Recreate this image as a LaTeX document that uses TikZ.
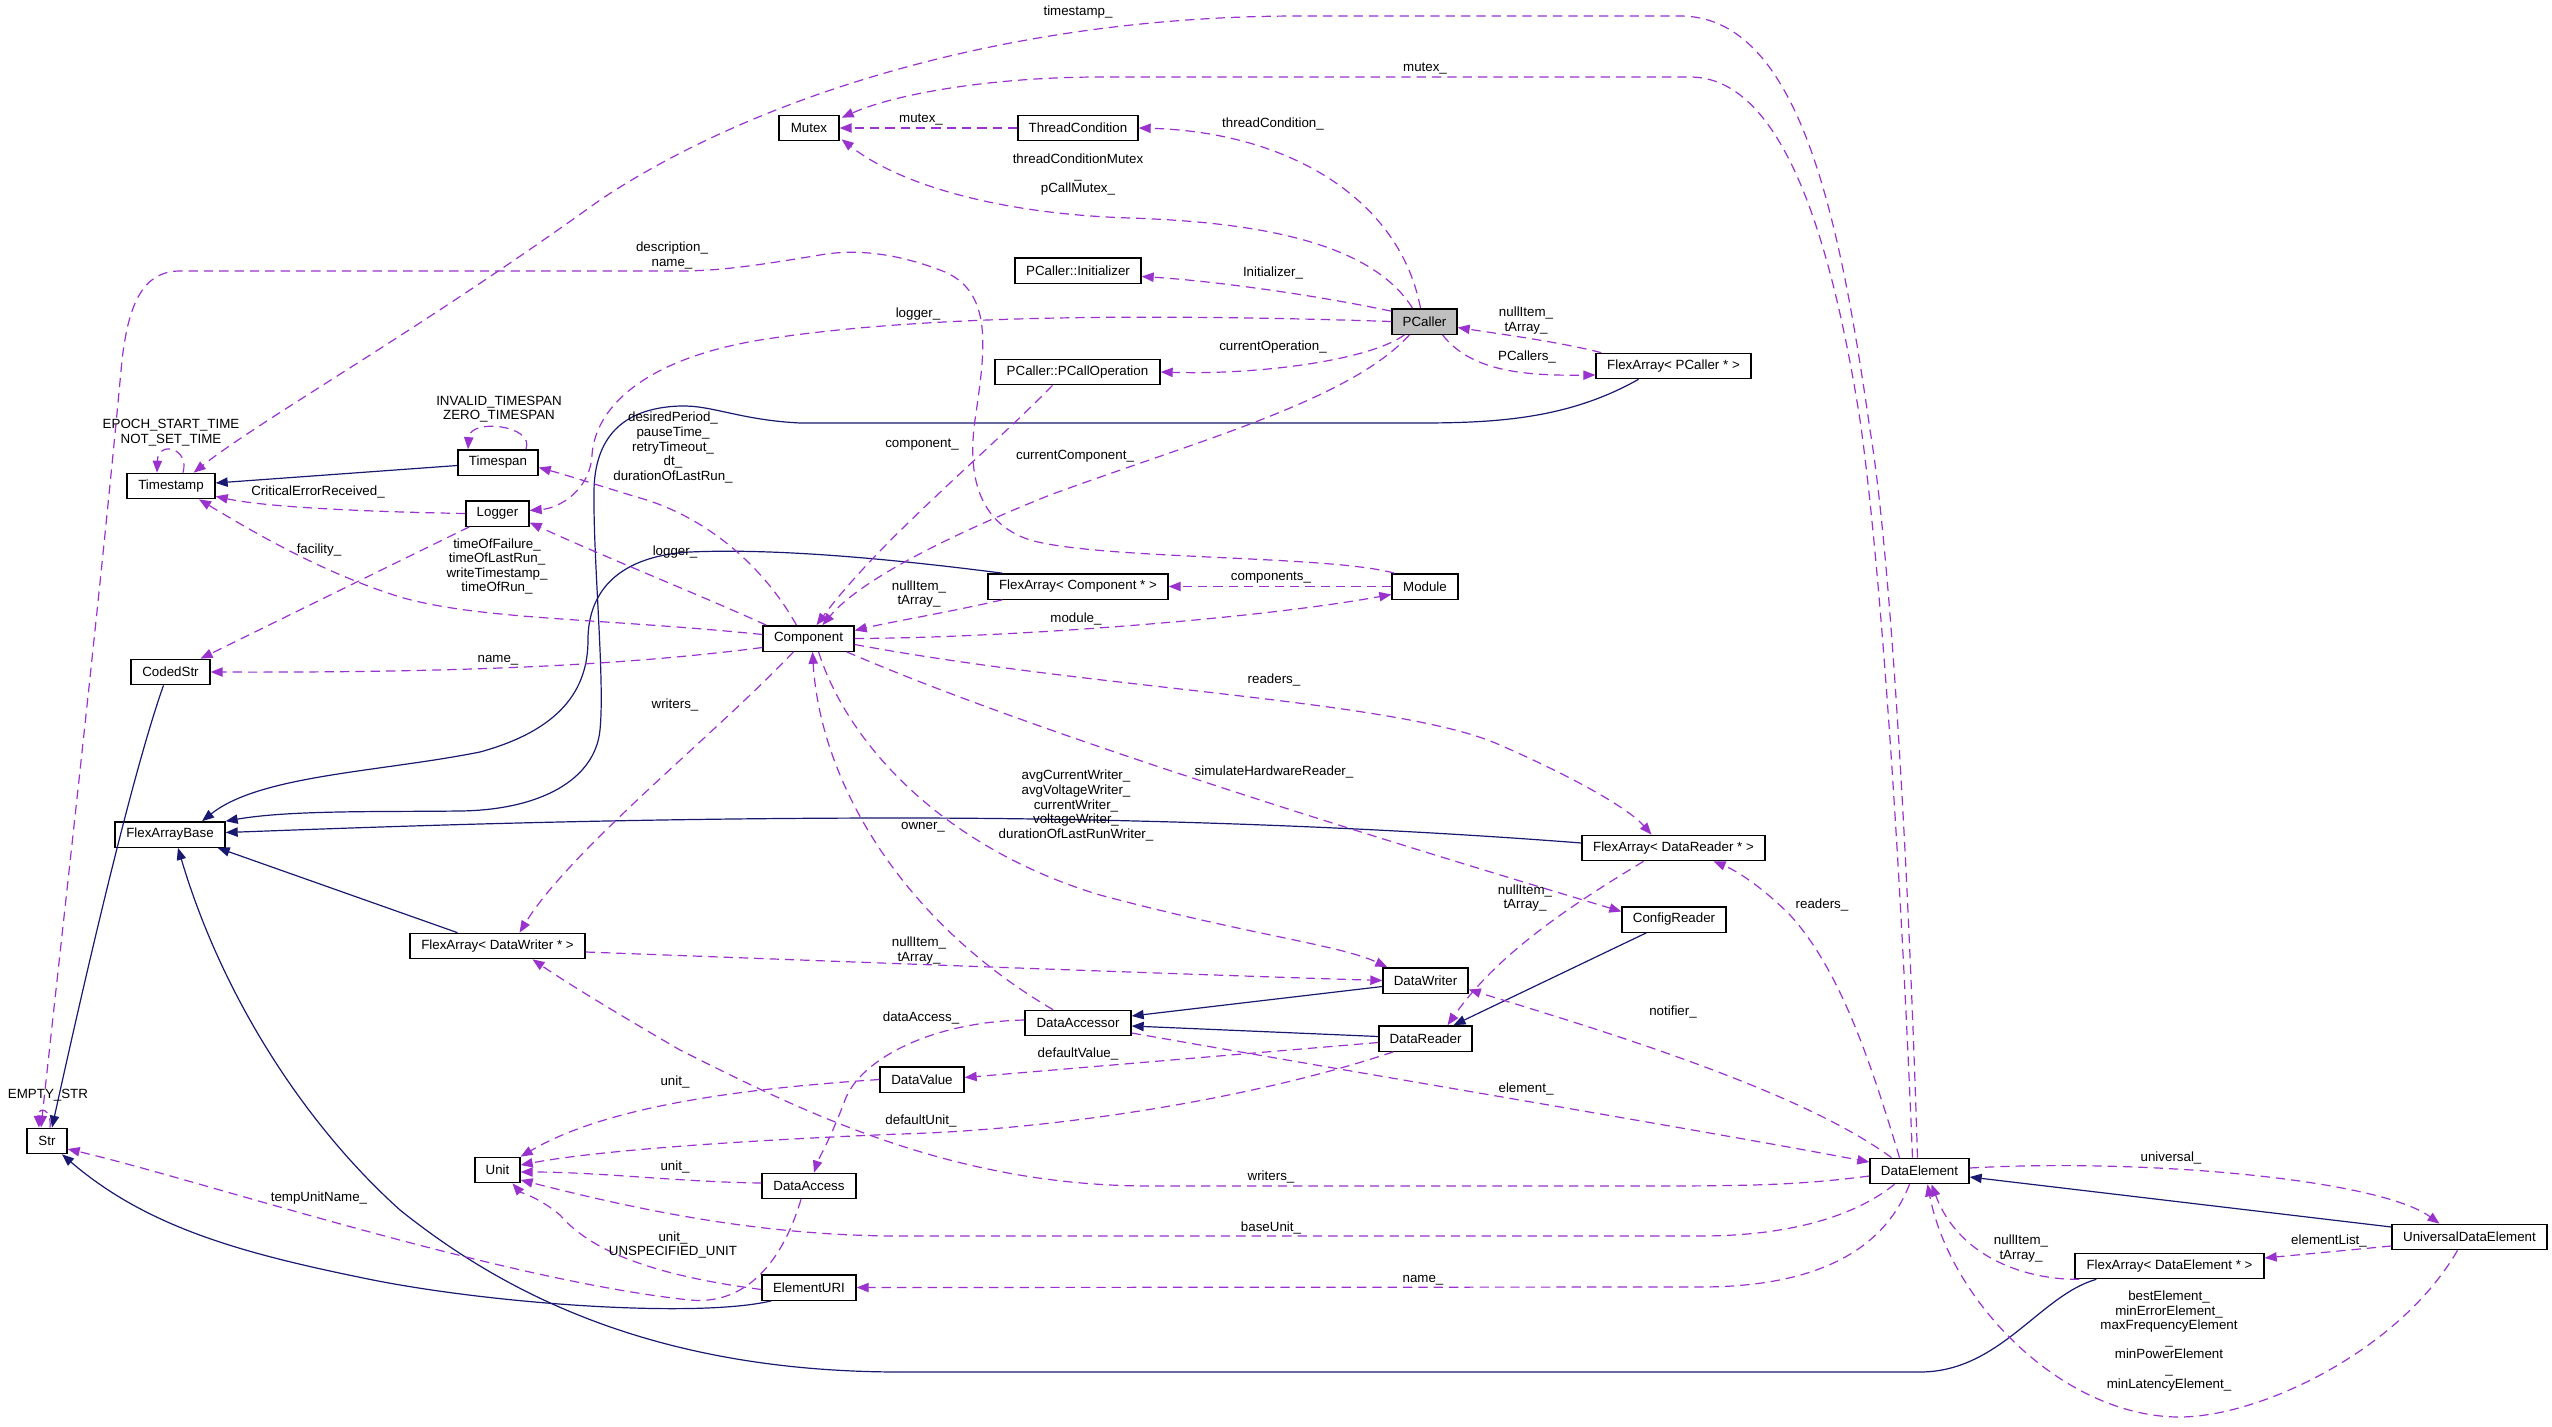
\documentclass[tikz,border=0pt]{standalone}
\usepackage{fontspec}
\setmainfont{Liberation Sans}
\usetikzlibrary{arrows.meta,calc}
\definecolor{purp}{HTML}{9A32CD}
\definecolor{navyb}{HTML}{191970}
\definecolor{pcfill}{HTML}{BFBFBF}
\begin{document}
\begin{tikzpicture}[x=0.75pt,y=-0.75pt,
  every node/.style={font=\fontsize{10}{10.9}\selectfont},
  box/.style={draw=black, line width=1pt, fill=white, minimum height=19pt, inner sep=0pt, anchor=center},
  rel/.style={draw=purp, line width=0.9pt, dash pattern=on 7pt off 4.5pt, -{Triangle[length=9pt,width=7pt]}},
  inh/.style={draw=navyb, line width=0.9pt, -{Triangle[length=9pt,width=7pt]}},
  lbl/.style={align=center, inner sep=0pt}]
\useasboundingbox (0,0) rectangle (2552,1427);
% nodes
\node[box, minimum width=45pt] (Mutex) at (809,128) {Mutex};
\node[box, minimum width=90pt] (TC) at (1078,128) {ThreadCondition};
\node[box, minimum width=94.5pt] (Init) at (1078,270.5) {PCaller::Initializer};
\node[box, minimum width=48.75pt, fill=pcfill] (PC) at (1424.5,321.5) {PCaller};
\node[box, minimum width=116.25pt] (FAP) at (1673.5,366) {FlexArray< PCaller * >};
\node[box, minimum width=123.75pt] (PCO) at (1077.5,372) {PCaller::PCallOperation};
\node[box, minimum width=66pt] (TS) at (171,486) {Timestamp};
\node[box, minimum width=60pt] (TSp) at (498,462.5) {Timespan};
\node[box, minimum width=47.25pt] (Log) at (497.5,513.5) {Logger};
\node[box, minimum width=59.25pt] (CS) at (170.5,672) {CodedStr};
\node[box, minimum width=68.25pt] (Comp) at (808.5,638.5) {Component};
\node[box, minimum width=135pt] (FAC) at (1078,586.5) {FlexArray< Component * >};
\node[box, minimum width=49.5pt] (Mod) at (1425,586.5) {Module};
\node[box, minimum width=82.5pt] (FAB) at (170,834.5) {FlexArrayBase};
\node[box, minimum width=131.25pt] (FADW) at (497.5,946) {FlexArray< DataWriter * >};
\node[box, minimum width=137.25pt] (FADR) at (1673.5,848) {FlexArray< DataReader * >};
\node[box, minimum width=78pt] (CR) at (1674,919.5) {ConfigReader};
\node[box, minimum width=63.75pt] (DW) at (1425.5,980.5) {DataWriter};
\node[box, minimum width=79.5pt] (DA) at (1078,1023) {DataAccessor};
\node[box, minimum width=69.75pt] (DR) at (1425.5,1038.5) {DataReader};
\node[box, minimum width=63pt] (DV) at (922,1079.5) {DataValue};
\node[box, minimum width=30pt] (Str) at (47,1141) {Str};
\node[box, minimum width=33.75pt] (Unit) at (497.5,1170) {Unit};
\node[box, minimum width=70.5pt] (DAc) at (809,1186) {DataAccess};
\node[box, minimum width=70.5pt] (EU) at (809,1287.5) {ElementURI};
\node[box, minimum width=74.25pt] (DE) at (1919.5,1171) {DataElement};
\node[box, minimum width=116.25pt] (UDE) at (2469.5,1237) {UniversalDataElement};
\node[box, minimum width=141.75pt] (FADE) at (2169.5,1266) {FlexArray< DataElement * >};
% inheritance
\draw[inh] ($(TSp.west)+(0,3)$) -- ($(TS.east)+(0,-3)$);
\draw[inh] ($(FAP.south)+(-35,0)$) .. controls (1570,418) and (1500,423) .. (1420,423) -- (800,423) .. controls (740,420) and (712,405) .. (680,406) .. controls (620,408) and (595,440) .. (594,490) .. controls (593,560) and (605,680) .. (600,730) .. controls (595,780) and (540,810) .. (460,811) .. controls (380,812) and (290,810) .. (FAB.north east);
\draw[inh] ($(FAC.north west)+(15,0)$) .. controls (900,560) and (780,548) .. (690,552) .. controls (620,556) and (588,590) .. (588,640) .. controls (588,690) and (560,730) .. (480,752) .. controls (380,772) and (260,775) .. ($(FAB.north)+(32,0)$);
\draw[inh] ($(FADR.west)+(0,-5)$) .. controls (1350,825) and (1100,818) .. (900,818) .. controls (600,818) and (350,828) .. ($(FAB.east)+(0,-2)$);
\draw[inh] ($(FADW.north)+(-40,0)$) -- ($(FAB.south east)+(-8,0)$);
\draw[inh] ($(FADE.south west)+(22,0)$) .. controls (2040,1295) and (2000,1372) .. (1920,1372) -- (900,1372) .. controls (650,1372) and (500,1290) .. (400,1210) .. controls (300,1120) and (220,990) .. ($(FAB.south)+(8,0)$);
\draw[inh] ($(DW.west)+(0,6)$) -- ($(DA.east)+(0,-7)$);
\draw[inh] ($(DR.west)+(0,-2)$) -- ($(DA.east)+(0,3)$);
\draw[inh] ($(CR.south west)+(25,0)$) -- ($(DR.north)+(28,0)$);
\draw[inh] ($(UDE.west)+(0,-10)$) -- ($(DE.east)+(0,6)$);
\draw[inh] ($(CS.south)+(-7,0)$) .. controls (130,780) and (80,1000) .. ($(Str.north)+(5,0)$);
\draw[inh] ($(EU.south west)+(10,0)$) .. controls (700,1318) and (500,1305) .. (373,1280) .. controls (250,1255) and (150,1230) .. ($(Str.south)+(15,0)$);
% usage
\draw[rel] ($(PC.north)+(-4,0)$) .. controls (1400,200) and (1290,132) .. (TC.east);
\node[lbl] (l1) at (1273,124) {threadCondition\_};
\draw[rel] (TC.west) -- (Mutex.east);
\node[lbl] (l2) at (921,120) {mutex\_};
\draw[rel] ($(PC.north)+(-12,0)$) .. controls (1370,240) and (1250,222) .. (1130,218) .. controls (1000,214) and (900,185) .. ($(Mutex.south east)+(2,-2)$);
\node[lbl] (l3) at (1078,175) {threadConditionMutex\\\_\\pCallMutex\_};
\draw[rel] ($(DE.north)+(-7,0)$) .. controls (1900,850) and (1880,560) .. (1860,420) .. controls (1830,230) and (1780,77) .. (1690,77) -- (1100,77) .. controls (1000,77) and (900,92) .. ($(Mutex.north east)+(2,3)$);
\node[lbl] (l4) at (1425,69) {mutex\_};
\draw[rel] ($(DE.north)+(-2,0)$) .. controls (1908,850) and (1890,550) .. (1870,430) .. controls (1840,220) and (1800,16) .. (1680,16) -- (1300,16) .. controls (1000,16) and (750,100) .. (600,200) .. controls (420,330) and (260,420) .. ($(TS.north east)+(-22,0)$);
\node[lbl] (l5) at (1078,12) {timestamp\_};
\draw[rel] ($(Mod.north west)+(3,0)$) .. controls (1330,555) and (1100,560) .. (1030,540) .. controls (975,522) and (968,470) .. (975,420) .. controls (985,350) and (995,290) .. (940,270) .. controls (900,255) and (860,248) .. (820,255) .. controls (760,265) and (720,271) .. (680,271) -- (180,271) .. controls (140,271) and (128,310) .. (122,360) .. controls (100,600) and (60,950) .. ($(Str.north)+(-6,0)$);
\node[lbl] (l6) at (672,255.5) {description\_\\name\_};
\draw[rel] ($(PC.north west)+(0,3)$) .. controls (1300,292) and (1200,280) .. ($(Init.east)+(0,6)$);
\node[lbl] (l7) at (1273,273) {Initializer\_};
\draw[rel] (PC.west) .. controls (1100,312) and (900,318) .. (760,340) .. controls (640,360) and (595,410) .. (592,455) .. controls (590,490) and (560,508) .. ($(Log.east)+(0,-3)$);
\node[lbl] (l8) at (918,314) {logger\_};
\draw[rel] ($(PC.south)+(-20,0)$) .. controls (1370,360) and (1260,375) .. (PCO.east);
\node[lbl] (l9) at (1273,347) {currentOperation\_};
\draw[rel] ($(PC.south)+(18,0)$) .. controls (1470,370) and (1520,376) .. ($(FAP.west)+(0,9)$);
\node[lbl] (l10) at (1527,357) {PCallers\_};
\draw[rel] ($(FAP.north west)+(6,0)$) .. controls (1560,342) and (1500,334) .. ($(PC.east)+(0,6)$);
\node[lbl] (l11) at (1526,320.5) {nullItem\_\\tArray\_};
\draw[rel] ($(PC.south)+(-15,0)$) .. controls (1350,400) and (1200,440) .. (1050,495) .. controls (950,535) and (860,580) .. ($(Comp.north)+(14,0)$);
\node[lbl] (l12) at (1075,456) {currentComponent\_};
\draw[rel] ($(PCO.south)+(-25,0)$) .. controls (990,450) and (880,540) .. ($(Comp.north)+(8,0)$);
\node[lbl] (l13) at (922,445) {component\_};
\draw[rel] (Log.west) .. controls (380,512) and (270,508) .. ($(TS.south east)+(0,-3)$);
\node[lbl] (l14) at (318,492) {CriticalErrorReceived\_};
\draw[rel] ($(Log.south west)+(4,0)$) -- ($(CS.north)+(30,0)$);
\node[lbl] (l15) at (319,550) {facility\_};
\draw[rel] ($(Comp.west)+(0,-4)$) .. controls (600,618) and (480,620) .. (400,597) .. controls (320,572) and (250,530) .. ($(TS.south)+(28,0)$);
\node[lbl] (l16) at (497,566.5) {timeOfFailure\_\\timeOfLastRun\_\\writeTimestamp\_\\timeOfRun\_};
\draw[rel] ($(Comp.north)+(-12,0)$) .. controls (760,560) and (700,515) .. (640,498) .. controls (600,486) and (570,476) .. ($(TSp.east)+(0,5)$);
\node[lbl] (l17) at (673,447.5) {desiredPeriod\_\\pauseTime\_\\retryTimeout\_\\dt\_\\durationOfLastRun\_};
\draw[rel] ($(Comp.north west)+(4,0)$) .. controls (700,595) and (600,555) .. ($(Log.east)+(0,9)$);
\node[lbl] (l18) at (675,552) {logger\_};
\draw[rel] ($(Comp.west)+(0,9)$) .. controls (650,662) and (500,673) .. (CS.east);
\node[lbl] (l19) at (498,660) {name\_};
\draw[rel] ($(Comp.south)+(-15,0)$) .. controls (720,730) and (570,850) .. ($(FADW.north)+(22,0)$);
\node[lbl] (l20) at (675,705) {writers\_};
\draw[rel] (Comp.east) .. controls (1000,638) and (1250,620) .. ($(Mod.west)+(0,8)$);
\node[lbl] (l21) at (1076,619) {module\_};
\draw[rel] (Mod.west) -- (FAC.east);
\node[lbl] (l22) at (1271,578) {components\_};
\draw[rel] ($(FAC.south west)+(15,0)$) .. controls (950,612) and (890,622) .. ($(Comp.east)+(0,-8)$);
\node[lbl] (l23) at (919,594) {nullItem\_\\tArray\_};
\draw[rel] ($(Comp.east)+(0,6)$) .. controls (1100,690) and (1400,700) .. (1500,745) .. controls (1580,780) and (1630,810) .. ($(FADR.north)+(-22,0)$);
\node[lbl] (l24) at (1274,680) {readers\_};
\draw[rel] ($(Comp.south east)+(-8,0)$) .. controls (1050,740) and (1450,860) .. ($(CR.west)+(0,-8)$);
\node[lbl] (l25) at (1274,772) {simulateHardwareReader\_};
\draw[rel] ($(Comp.south)+(10,0)$) .. controls (850,750) and (950,850) .. (1100,895) .. controls (1250,935) and (1340,945) .. ($(DW.north west)+(5,0)$);
\node[lbl] (l26) at (1076,805.5) {avgCurrentWriter\_\\avgVoltageWriter\_\\currentWriter\_\\voltageWriter\_\\durationOfLastRunWriter\_};
\draw[rel] ($(DA.north)+(-25,0)$) .. controls (900,920) and (820,780) .. ($(Comp.south)+(4,0)$);
\node[lbl] (l27) at (923,827) {owner\_};
\draw[rel] ($(FADW.east)+(0,6)$) .. controls (800,960) and (1200,975) .. (DW.west);
\node[lbl] (l28) at (919,950.5) {nullItem\_\\tArray\_};
\draw[rel] ($(DE.west)+(0,5)$) .. controls (1800,1185) and (1750,1186) .. (1650,1186) -- (1150,1186) .. controls (950,1186) and (800,1110) .. (680,1050) .. controls (620,1015) and (570,985) .. ($(FADW.south)+(35,0)$);
\node[lbl] (l29) at (1271,1177) {writers\_};
\draw[rel] ($(DE.north)+(-20,0)$) .. controls (1870,1060) and (1840,970) .. (1790,915) .. controls (1760,885) and (1735,870) .. ($(FADR.south)+(40,0)$);
\node[lbl] (l30) at (1822,905) {readers\_};
\draw[rel] ($(DE.north)+(-28,0)$) .. controls (1800,1090) and (1600,1030) .. ($(DW.east)+(0,9)$);
\node[lbl] (l31) at (1673,1012) {notifier\_};
\draw[rel] ($(DA.east)+(0,10)$) .. controls (1400,1080) and (1700,1130) .. ($(DE.west)+(0,-9)$);
\node[lbl] (l32) at (1526,1089) {element\_};
\draw[rel] ($(DE.south)+(-25,0)$) .. controls (1850,1220) and (1780,1236) .. (1700,1236) -- (900,1236) .. controls (750,1236) and (620,1205) .. ($(Unit.east)+(0,10)$);
\node[lbl] (l33) at (1271,1228) {baseUnit\_};
\draw[rel] ($(DE.south)+(-10,0)$) .. controls (1880,1260) and (1800,1287) .. (1700,1287) -- (EU.east);
\node[lbl] (l34) at (1423,1280) {name\_};
\draw[rel] ($(DE.east)+(0,-3)$) .. controls (2150,1158) and (2380,1180) .. ($(UDE.north)+(-30,0)$);
\node[lbl] (l35) at (2171,1158) {universal\_};
\draw[rel] ($(UDE.west)+(0,9)$) -- ($(FADE.east)+(0,-8)$);
\node[lbl] (l36) at (2329,1241) {elementList\_};
\draw[rel] ($(FADE.south west)+(5,0)$) .. controls (2030,1280) and (1960,1260) .. ($(DE.south)+(12,0)$);
\node[lbl] (l37) at (2021,1248.5) {nullItem\_\\tArray\_};
\draw[rel] ($(UDE.south)+(-12,0)$) .. controls (2400,1350) and (2260,1418) .. (2177,1417) .. controls (2060,1415) and (1950,1300) .. ($(DE.south)+(8,0)$);
\node[lbl] (l38) at (2169,1341) {bestElement\_\\minErrorElement\_\\maxFrequencyElement\\\_\\minPowerElement\\\_\\minLatencyElement\_};
\draw[rel] ($(DR.west)+(0,4)$) -- ($(DV.east)+(0,-2)$);
\node[lbl] (l39) at (1078,1054) {defaultValue\_};
\draw[rel] ($(DR.south west)+(15,0)$) .. controls (1250,1100) and (1050,1130) .. (900,1134) .. controls (750,1140) and (600,1150) .. ($(Unit.east)+(0,-5)$);
\node[lbl] (l40) at (921,1121) {defaultUnit\_};
\draw[rel] (DV.west) .. controls (720,1090) and (600,1110) .. (Unit.north east);
\node[lbl] (l41) at (675,1082) {unit\_};
\draw[rel] ($(DAc.west)+(0,-3)$) .. controls (680,1182) and (600,1172) .. ($(Unit.east)+(0,2)$);
\node[lbl] (l42) at (675,1167) {unit\_};
\draw[rel] ($(DA.west)+(0,-3)$) .. controls (930,1022) and (860,1060) .. (845,1100) .. controls (830,1140) and (818,1160) .. ($(DAc.north)+(5,0)$);
\node[lbl] (l43) at (921,1018) {dataAccess\_};
\draw[rel] ($(EU.west)+(0,2)$) .. controls (650,1275) and (590,1250) .. (560,1215) .. controls (540,1198) and (520,1192) .. ($(Unit.south)+(15,0)$);
\node[lbl] (l44) at (673,1245) {unit\_\\UNSPECIFIED\_UNIT};
\draw[rel] ($(DAc.south)+(-8,0)$) .. controls (780,1270) and (740,1305) .. (690,1300) .. controls (500,1280) and (200,1180) .. ($(Str.east)+(0,8)$);
\node[lbl] (l45) at (319,1198) {tempUnitName\_};
\draw[rel] ($(FADR.south)+(-30,0)$) .. controls (1580,900) and (1500,950) .. ($(DR.north)+(22,0)$);
\node[lbl] (l46) at (1525,898) {nullItem\_\\tArray\_};
% self loops
\draw[rel] ($(TSp.north)+(28,0)$) .. controls (535,425) and (470,418) .. ($(TSp.north)+(-30,0)$);
\node[lbl] (l47) at (499,409) {INVALID\_TIMESPAN\\ZERO\_TIMESPAN};
\draw[rel] ($(TS.north)+(12,0)$) .. controls (190,448) and (158,440) .. ($(TS.north)+(-14,0)$);
\node[lbl] (l48) at (171,432.5) {EPOCH\_START\_TIME\\NOT\_SET\_TIME};
\draw[rel] ($(Str.north)+(3,0)$) .. controls (52,1108) and (38,1106) .. ($(Str.north)+(-8,0)$);
\node[lbl] (l49) at (48,1095) {EMPTY\_STR};
\end{tikzpicture}
\end{document}
